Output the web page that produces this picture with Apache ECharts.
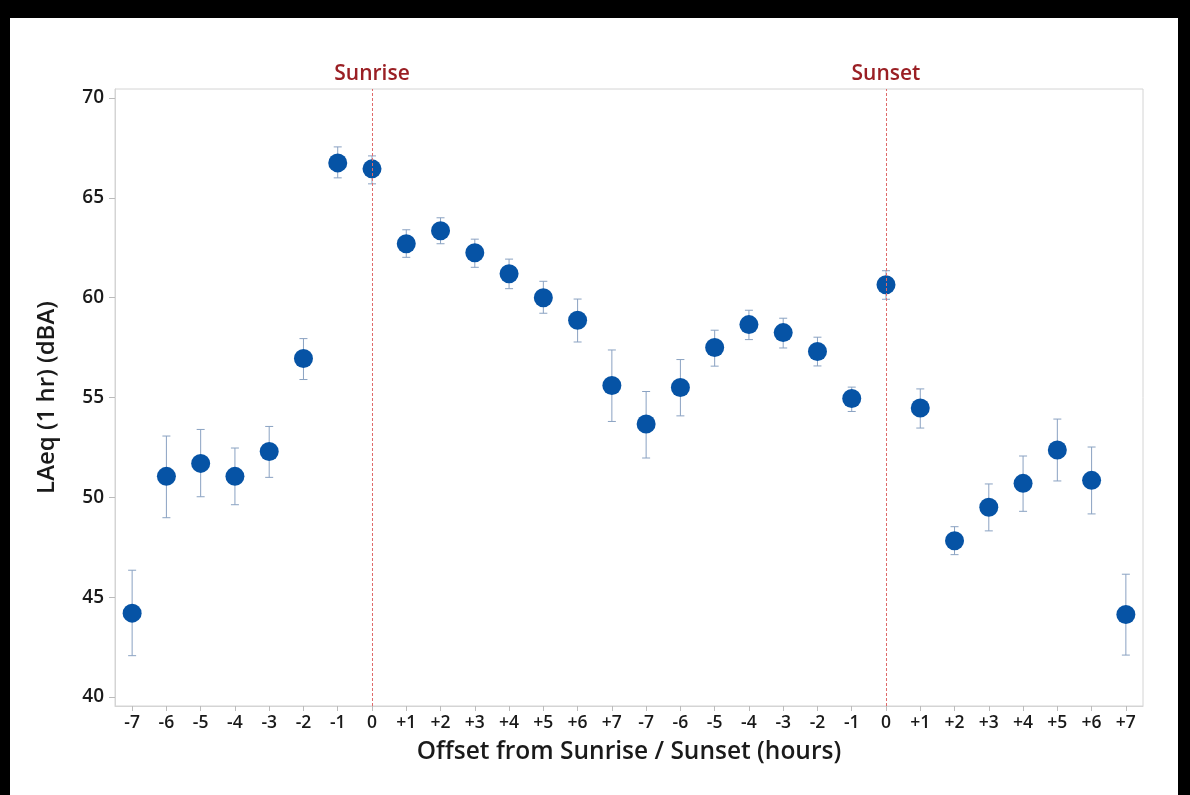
<!DOCTYPE html>
<html>
<head>
<meta charset="utf-8">
<script src="https://cdn.jsdelivr.net/npm/echarts@6/dist/echarts.min.js"></script>
<style>
  html, body { margin: 0; padding: 0; background: #fff; }
  #chart { position: absolute; left: 0; top: 0; width: 1190px; height: 795px; }
  .blk { position: absolute; background: #000; }
</style>
</head>
<body>
<div id="chart"></div>
<div class="blk" style="left:0;top:0;width:1190px;height:18px;"></div>
<div class="blk" style="left:0;top:0;width:10px;height:795px;"></div>
<div class="blk" style="left:1178px;top:0;width:12px;height:795px;"></div>
<script>
// Category labels (hours offset from sunrise, then from sunset)
const categories = ['-7','-6','-5','-4','-3','-2','-1','0','+1','+2','+3','+4','+5','+6','+7',
                    '-7','-6','-5','-4','-3','-2','-1','0','+1','+2','+3','+4','+5','+6','+7'];
// Mean LAeq (dBA)
const meanValues = [44.2, 51.05, 51.7, 51.05, 52.3, 56.95, 66.75, 66.45, 62.7, 63.35, 62.25, 61.2, 60.0, 58.87, 55.6,
                    53.67, 55.5, 57.5, 58.65, 58.25, 57.3, 54.95, 60.65, 54.47, 47.83, 49.5, 50.7, 52.37, 50.85, 44.13];
// Upper error bar ends
const upperValues = [46.35, 53.07, 53.4, 52.47, 53.55, 57.95, 67.55, 67.1, 63.4, 64.0, 62.93, 61.93, 60.82, 59.93, 57.38,
                     55.3, 56.9, 58.37, 59.37, 58.97, 58.02, 55.52, 61.35, 55.43, 48.53, 50.67, 52.07, 53.92, 52.52, 46.15];
// Lower error bar ends
const lowerValues = [42.07, 48.98, 50.03, 49.63, 51.0, 55.9, 66.0, 65.7, 62.02, 62.7, 61.52, 60.45, 59.22, 57.78, 53.8,
                     51.97, 54.08, 56.57, 57.9, 57.48, 56.58, 54.3, 59.92, 53.47, 47.13, 48.32, 49.3, 50.82, 49.17, 42.1];
// Y tick labels
const yTicks = [40, 45, 50, 55, 60, 65, 70];
// Reference lines (category index, label)
const refLines = [[7, 'Sunrise'], [22, 'Sunset']];

const FONT = '"Open Sans", "Noto Sans", sans-serif';
const chart = echarts.init(document.getElementById('chart'), null, { renderer: 'canvas' });

const errData = categories.map((c, i) => [i, lowerValues[i], upperValues[i]]);
const ptData = categories.map((c, i) => [i, meanValues[i]]);

chart.setOption({
  animation: false,
  backgroundColor: '#ffffff',
  grid: { left: 115, right: 47, top: 89, bottom: 89, show: true, borderColor: '#d4d4d4', borderWidth: 1, backgroundColor: 'transparent' },
  xAxis: {
    type: 'category',
    data: categories,
    boundaryGap: true,
    axisLine: { show: true, lineStyle: { color: '#d4d4d4' } },
    axisTick: { show: true, alignWithLabel: true, length: 5, lineStyle: { color: '#bbbbbb' } },
    axisLabel: { color: '#1a1a1a', fontSize: 17.5, fontFamily: FONT, fontWeight: 600, margin: 8, interval: 0 },
    splitLine: { show: false },
    name: 'Offset from Sunrise / Sunset (hours)',
    nameLocation: 'middle',
    nameGap: 34,
    nameTextStyle: { color: '#1a1a1a', fontSize: 24.5, fontFamily: FONT, fontWeight: 600 }
  },
  yAxis: {
    type: 'value',
    min: 39.55,
    max: 70.45,
    axisLine: { show: true, lineStyle: { color: '#d4d4d4' } },
    axisTick: { show: true, length: 6, lineStyle: { color: '#bbbbbb' }, customValues: yTicks },
    axisLabel: { color: '#1a1a1a', fontSize: 19, fontFamily: FONT, fontWeight: 600, margin: 11, customValues: yTicks },
    splitLine: { show: false },
    name: 'LAeq (1 hr) (dBA)',
    nameLocation: 'middle',
    nameGap: 56,
    nameTextStyle: { color: '#1a1a1a', fontSize: 24, fontFamily: FONT, fontWeight: 600 }
  },
  series: [
    {
      type: 'custom',
      name: 'err',
      data: errData,
      z: 2,
      renderItem: function (params, api) {
        const x = api.value(0);
        const lo = api.coord([x, api.value(1)]);
        const hi = api.coord([x, api.value(2)]);
        const hw = 4;
        const style = { stroke: '#8aa2c2', lineWidth: 1, fill: null };
        return {
          type: 'group',
          children: [
            { type: 'line', shape: { x1: lo[0], y1: lo[1], x2: hi[0], y2: hi[1] }, style: style },
            { type: 'line', shape: { x1: lo[0] - hw, y1: lo[1], x2: lo[0] + hw, y2: lo[1] }, style: style },
            { type: 'line', shape: { x1: hi[0] - hw, y1: hi[1], x2: hi[0] + hw, y2: hi[1] }, style: style }
          ]
        };
      },
      silent: true
    },
    {
      type: 'scatter',
      name: 'mean',
      data: ptData,
      symbol: 'circle',
      symbolSize: 19,
      itemStyle: { color: '#0653a5', opacity: 1 },
      z: 3,
      markLine: {
        silent: true,
        symbol: 'none',
        lineStyle: { color: '#e06a6a', type: [3, 2], width: 1 },
        label: {
          show: true,
          position: 'end',
          distance: 4,
          formatter: '{b}',
          color: '#9a1f24',
          fontSize: 21,
          fontFamily: FONT,
          fontWeight: 600
        },
        data: refLines.map(r => ({ xAxis: r[0], name: r[1] }))
      }
    }
  ]
});
</script>
</body>
</html>
